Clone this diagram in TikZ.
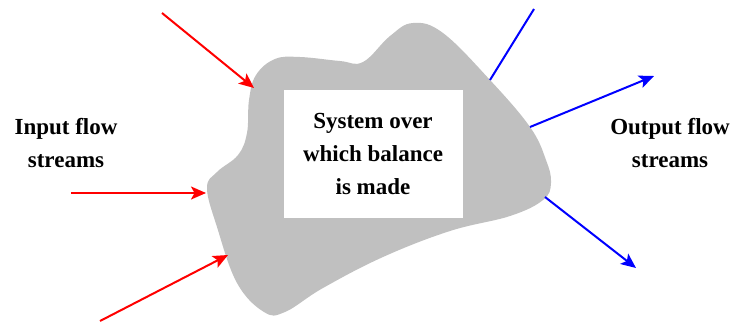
\documentclass[tikz,border=0pt]{standalone}
\usepackage{fontspec}
\setmainfont{Liberation Serif}
\usetikzlibrary{arrows.meta,positioning}
\definecolor{myred}{RGB}{255,0,0}
\definecolor{myblue}{RGB}{0,0,255}
\definecolor{mygray}{RGB}{192,192,192}
\tikzset{
  flowlabel/.style={font=\fontsize{23}{33}\selectfont\bfseries, align=center, inner sep=0pt},
  instream/.style={myred, line width=2pt, -{Stealth[length=15pt,width=13pt,inset=3.5pt]}},
  outstream/.style={myblue, line width=2pt, -{Stealth[length=15pt,width=13pt,inset=3.5pt]}}
}
\begin{document}
\begin{tikzpicture}[x=1pt, y=-1pt]
  \useasboundingbox (0,0) rectangle (735,322);
  % --- system (grey blob) ---
  \fill[mygray] plot[smooth cycle, tension=0.65] coordinates {
    (256,75) (275,59) (300,57) (340,61) (363,62) (390,36) (413,23) (443,33)
    (490,80) (530,127) (546,160) (551,183) (543,200) (510,216)
    (450,231) (383,257) (323,288) (285,312) (264,312) (237,283)
    (217,227) (207,188) (217,172) (238,155) (247,133) (249,100)};
  % --- box with text ---
  \node[flowlabel, fill=white, minimum width=179pt, minimum height=128pt]
    (sys) at (373,154) {System over\\which balance\\is made};
  % --- labels ---
  \node[flowlabel] (inlbl) at (66,143) {Input flow\\streams};
  \node[flowlabel] (outlbl) at (670,143) {Output flow\\streams};
  % --- stream end points ---
  \coordinate (inA) at (162,13);
  \coordinate (inAend) at (254,88);
  \coordinate (inB) at (71,193);
  \coordinate (inBend) at (206,193);
  \coordinate (inC) at (100,321);
  \coordinate (inCend) at (228,255);
  \coordinate (outA) at (490,80);
  \coordinate (outAend) at (534,9);
  \coordinate (outB) at (530,127);
  \coordinate (outBend) at (654,76);
  \coordinate (outC) at (545,197);
  \coordinate (outCend) at (636,268);
  % --- input streams ---
  \draw[instream] (inA) -- (inAend);
  \draw[instream] (inB) -- (inBend);
  \draw[instream] (inC) -- (inCend);
  % --- output streams ---
  \draw[myblue, line width=2pt] (outA) -- (outAend);
  \draw[outstream] (outB) -- (outBend);
  \draw[outstream] (outC) -- (outCend);
\end{tikzpicture}
\end{document}
